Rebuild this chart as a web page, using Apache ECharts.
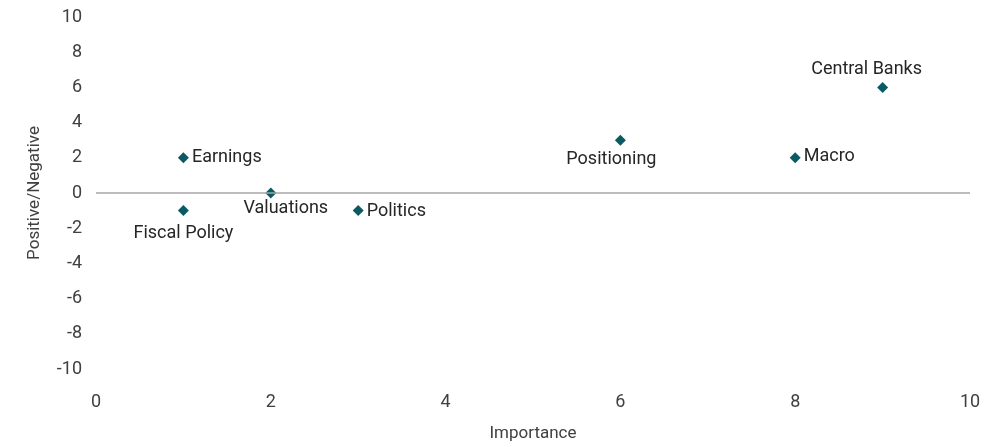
<!DOCTYPE html>
<html>
<head>
    <meta charset="utf-8">
    <title>Importance vs Positive/Negative</title>
    <script src="https://cdn.jsdelivr.net/npm/echarts@6/dist/echarts.min.js"></script>
    <style>
        html, body { margin: 0; padding: 0; background: #fff; }
    </style>
</head>
<body>
    <div id="chart" style="width: 1001px;height: 447px;"></div>
</body>

<script>
    var names = ['Earnings', 'Fiscal Policy', 'Valuations', 'Politics', 'Positioning', 'Macro', 'Central Banks'];
    var importance = [1, 1, 2, 3, 6, 8, 9];
    var sentiment = [2, -1, 0, -1, 3, 2, 6];
    var xTicks = [0, 2, 4, 6, 8, 10];
    var yTicks = [-10, -8, -6, -4, -2, 0, 2, 4, 6, 8, 10];

    // where each label sits relative to its point
    var labelPos = {
        'Earnings': { position: 'right', offset: [0, 0] },
        'Fiscal Policy': { position: 'bottom', offset: [0, 5] },
        'Valuations': { position: 'bottom', offset: [15, -2] },
        'Politics': { position: 'right', offset: [0, 1] },
        'Positioning': { position: 'bottom', offset: [-9, 2] },
        'Macro': { position: 'right', offset: [0, -1] },
        'Central Banks': { position: 'top', offset: [-16, 0] }
    };

    var font = 'Roboto';
    var points = names.map(function (n, i) {
        return {
            name: n,
            value: [importance[i], sentiment[i]],
            label: labelPos[n]
        };
    });

    var option = {
        animation: false,
        grid: { left: 96, right: 31, top: 17, bottom: 76 },
        xAxis: {
            type: 'value',
            min: xTicks[0],
            max: xTicks[xTicks.length - 1],
            interval: 2,
            name: 'Importance',
            nameLocation: 'middle',
            nameGap: 56,
            nameTextStyle: { fontFamily: font, fontSize: 17, color: '#404040' },
            axisLine: { show: false },
            axisTick: { show: false },
            splitLine: { show: false },
            axisLabel: { margin: 24, fontFamily: font, fontSize: 18, color: '#404040' }
        },
        yAxis: {
            type: 'value',
            min: yTicks[0],
            max: yTicks[yTicks.length - 1],
            interval: 2,
            name: 'Positive/Negative',
            nameLocation: 'middle',
            nameGap: 53,
            nameTextStyle: { fontFamily: font, fontSize: 17, color: '#404040' },
            axisLine: { show: false },
            axisTick: { show: false },
            splitLine: { show: false },
            axisLabel: { margin: 14, fontFamily: font, fontSize: 18, color: '#404040' }
        },
        series: [{
            type: 'scatter',
            symbol: 'diamond',
            symbolSize: 11,
            itemStyle: { color: '#0b5a63', opacity: 1 },
            label: {
                show: true,
                formatter: '{b}',
                distance: 3,
                fontFamily: font,
                fontSize: 18,
                color: '#262626'
            },
            markLine: {
                silent: true,
                symbol: 'none',
                label: { show: false },
                lineStyle: { color: '#a6a6a6', width: 1.5, type: 'solid' },
                data: [{ yAxis: 0 }]
            },
            data: points
        }]
    };

    var myChart = echarts.init(document.getElementById('chart'));
    myChart.setOption(option, true);
</script>
</html>
